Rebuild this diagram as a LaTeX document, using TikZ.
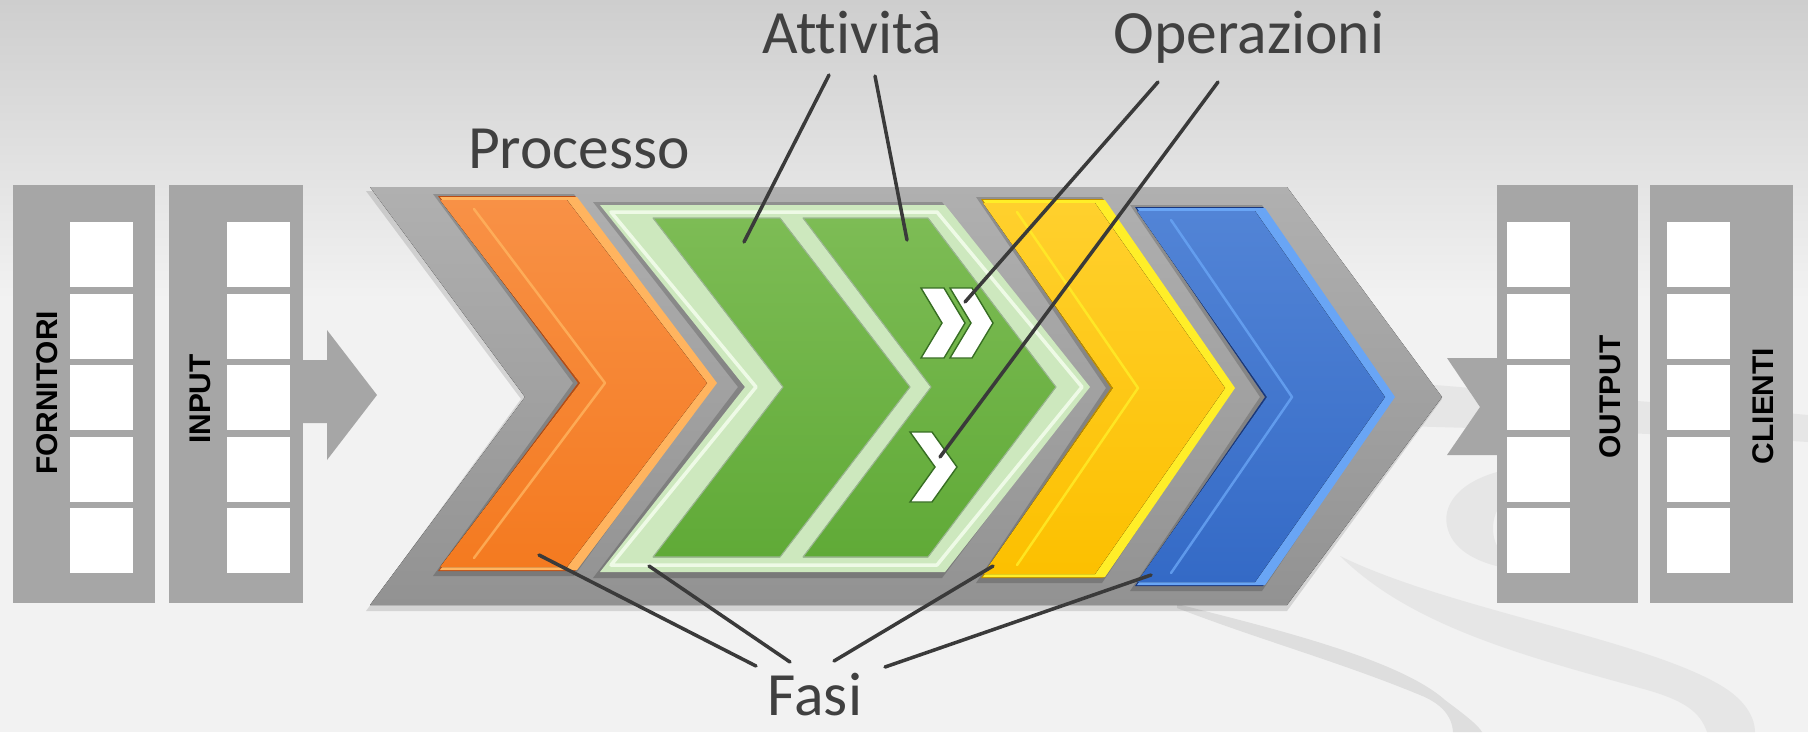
\documentclass[tikz,border=0pt]{standalone}
\usepackage{fontspec}
\setmainfont{Carlito}[Ligatures=NoCommon]
\newfontfamily\panelfont{Liberation Sans}
\usetikzlibrary{calc}

% colours
\definecolor{bgTop}{RGB}{206,206,206}
\definecolor{bgBot}{RGB}{242,242,242}
\definecolor{swoosh}{RGB}{230,230,230}
\definecolor{swooshThin}{RGB}{222,222,222}
\definecolor{panelGray}{RGB}{166,166,166}
\definecolor{procTop}{RGB}{176,176,176}
\definecolor{procBot}{RGB}{146,146,146}
\definecolor{txtGray}{RGB}{64,64,64}
\definecolor{lineGray}{RGB}{58,58,58}
\definecolor{orangeTop}{RGB}{248,145,70}
\definecolor{orangeMain}{RGB}{244,122,32}
\definecolor{orangeLight}{RGB}{255,180,95}
\definecolor{orangeDark}{RGB}{185,75,20}
\definecolor{greenTop}{RGB}{125,188,85}
\definecolor{greenMain}{RGB}{96,170,55}
\definecolor{greenPale}{RGB}{205,232,190}
\definecolor{greenGlow}{RGB}{238,250,230}
\definecolor{greenDark}{RGB}{55,110,35}
\definecolor{yellowTop}{RGB}{255,208,45}
\definecolor{yellowMain}{RGB}{252,192,0}
\definecolor{yellowLight}{RGB}{255,238,40}
\definecolor{yellowDark}{RGB}{190,140,0}
\definecolor{blueTop}{RGB}{82,132,214}
\definecolor{blueMain}{RGB}{52,106,198}
\definecolor{blueLight}{RGB}{105,165,245}
\definecolor{blueDark}{RGB}{25,55,125}

% chevron: left x, top width, depth, top y, middle y, bottom y
\newcommand{\chevpath}[6]{(#1,#4) -- ({#1+#2},#4) -- ({#1+#2+#3},#5) -- ({#1+#2},#6) -- (#1,#6) -- ({#1+#3},#5) -- cycle}
% bevelled phase chevron: colour prefix, then the six numbers above
\newcommand{\phase}[7]{%
	\fill[black, opacity=0.18] \chevpath{#2-7}{#3+4}{#4}{#5-3}{#6}{#7+6};
	\fill[#1Dark] \chevpath{#2-2}{#3}{#4}{#5-1}{#6}{#7+1};
	\fill[#1Light] \chevpath{#2}{#3}{#4}{#5}{#6}{#7};
	\fill[top color=#1Top, bottom color=#1Main] \chevpath{#2}{#3-10}{#4}{#5+3}{#6}{#7-3};
	\draw[#1Light, line width=1.4pt, opacity=0.8] ({#2+34},{#5+12}) -- ({#2+#4+25},#6) -- ({#2+34},{#7-12});
}

\begin{document}
\begin{tikzpicture}[x=0.2mm, y=-0.2mm, line cap=round, line join=round,
	lbl/.style={font=\fontsize{35}{42}\selectfont, text=txtGray, inner sep=0pt},
	paneltxt/.style={rotate=90, font=\panelfont\bfseries\fontsize{17}{20}\selectfont, text=black, inner sep=0pt},
	pointer/.style={draw=lineGray, line width=2pt},
	opchev/.style={fill=white, draw=greenDark, line width=0.8pt, line join=miter}]
\useasboundingbox (0,0) rectangle (1808,732);
%========================
% background
%========================
\shade[top color=bgTop, bottom color=bgBot] (0,0) rectangle (1808,300);
\fill[bgBot] (0,299) rectangle (1808,732);
% swooshes
\fill[swoosh] (1400,382) .. controls (1550,395) and (1700,405) .. (1808,415) -- (1808,442)
	.. controls (1700,435) and (1550,430) .. (1400,426) -- cycle;
\fill[swoosh] (1505,470) .. controls (1460,480) and (1440,505) .. (1448,530)
	.. controls (1455,552) and (1480,563) .. (1505,568) -- (1505,555)
	.. controls (1490,545) and (1488,515) .. (1505,500) -- cycle;
\fill[swoosh] (1340,556) .. controls (1450,610) and (1650,640) .. (1725,688)
	.. controls (1748,703) and (1755,720) .. (1755,732) -- (1707,732)
	.. controls (1700,712) and (1685,700) .. (1640,688)
	.. controls (1520,655) and (1410,625) .. cycle;
\fill[swooshThin] (1177,604) .. controls (1280,630) and (1400,660) .. (1445,700)
	.. controls (1465,715) and (1478,725) .. (1482,732) -- (1453,732)
	.. controls (1452,715) and (1440,703) .. (1420,695)
	.. controls (1340,662) and (1260,640) .. (1177,608) -- cycle;

%========================
% left: suppliers and input
%========================
\foreach \px/\pw/\cx in {13/142/70, 169/134/227, 1497/141/1507, 1650/143/1667} {
	\fill[panelGray] (\px,185) rectangle ++(\pw,418);
	\foreach \cy in {222,293.5,365,436.5,508}
		\fill[white] (\cx,\cy) rectangle ++(63,65);
}
\node[paneltxt] (forn) at (47,393) {FORNITORI};
\node[paneltxt] (inp) at (200,399) {INPUT};
% arrow into the process
\fill[panelGray] (303,360) -- (327,360) -- (327,330) -- (377,395) -- (327,460) -- (327,423) -- (303,423) -- cycle;

%========================
% middle: process and phases
%========================
\fill[black, opacity=0.12] \chevpath{366}{921}{155}{191}{399}{611};
\fill[top color=procTop, bottom color=procBot] \chevpath{370}{917}{155}{187}{397}{605};
% phase 1
\phase{orange}{440}{137}{140}{197}{383}{570}
% phase 2: the two activities
\fill[black, opacity=0.18] \chevpath{593}{349}{145}{202}{387}{578};
\fill[greenPale] \chevpath{600}{345}{145}{205}{387}{572};
\draw[greenGlow, line width=2pt] \chevpath{611}{326}{145}{212}{387}{565};
\filldraw[top color=greenTop, bottom color=greenMain, draw=greenDark!50, line width=0.6pt] \chevpath{653}{127}{130}{218}{387}{557};
\filldraw[top color=greenTop, bottom color=greenMain, draw=greenDark!50, line width=0.6pt] \chevpath{803}{125}{128}{218}{387}{557};
% operations
\filldraw[opchev] \chevpath{921}{23}{21}{288}{323}{358};
\filldraw[opchev] \chevpath{950}{22}{21}{288}{323}{358};
\filldraw[opchev] \chevpath{910}{22}{25}{432}{467}{502};
% phases 3 and 4
\phase{yellow}{983}{122}{130}{200}{388}{577}
\phase{blue}{1137}{128}{130}{208}{397}{585}

%========================
% right: output and clients
%========================
\fill[panelGray] (1447,358) -- (1505,358) -- (1505,455) -- (1447,455) -- (1480,407) -- cycle;
\fill[panelGray] (1497,185) rectangle ++(141,418);
\foreach \cy in {222,293.5,365,436.5,508}
	\fill[white] (1507,\cy) rectangle ++(63,65);
\node[paneltxt] (outp) at (1610,397) {OUTPUT};
\node[paneltxt] (cli) at (1763,406) {CLIENTI};

%========================
% labels and pointers
%========================
\node[lbl, anchor=base] (att) at (852,53) {Attività};
\node[lbl, anchor=base] (ops) at (1249,53) {Operazioni};
\node[lbl, anchor=base] (proc) at (579,168) {Processo};
\node[lbl, anchor=base] (fasi) at (815,715) {Fasi};

\coordinate (attL) at (829,75);  \coordinate (act1) at (744,242);
\coordinate (attR) at (875,76);  \coordinate (act2) at (907,240);
\coordinate (opsL) at (1158,82); \coordinate (op2) at (965,302);
\coordinate (opsR) at (1218,82); \coordinate (op1) at (940,457);
\coordinate (fasiA) at (756,666); \coordinate (ph1) at (539,555);
\coordinate (fasiB) at (790,662); \coordinate (ph2) at (649,566);
\coordinate (fasiC) at (834,661); \coordinate (ph3) at (993,566);
\coordinate (fasiD) at (885,667); \coordinate (ph4) at (1151,575);

\draw[pointer] (attL) -- (act1);
\draw[pointer] (attR) -- (act2);
\draw[pointer] (opsL) -- (op2);
\draw[pointer] (opsR) -- (op1);
\draw[pointer] (fasiA) -- (ph1);
\draw[pointer] (fasiB) -- (ph2);
\draw[pointer] (fasiC) -- (ph3);
\draw[pointer] (fasiD) -- (ph4);
\end{tikzpicture}
\end{document}
